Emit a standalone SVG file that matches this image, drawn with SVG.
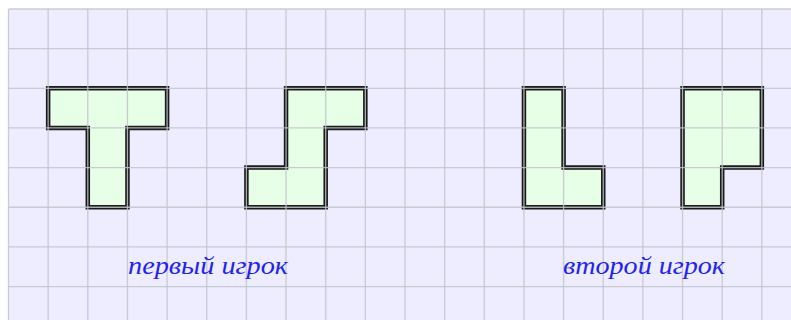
<svg xmlns="http://www.w3.org/2000/svg" width="791" height="320" viewBox="0 0 791 320">
<style>
.piece{fill:#e6ffe6;stroke:#1a1a1a;stroke-width:4.5;stroke-linejoin:miter}
.grid line{stroke:#c4c4cc;stroke-width:1.3;opacity:0.85}
.lbl{font-family:"Liberation Serif","DejaVu Serif",serif;font-style:italic;font-size:26px;fill:#2323f0}
</style>
<rect x="0" y="0" width="791" height="320" fill="#ffffff"/>
<rect x="8.5" y="9" width="782.5" height="311" fill="#ededff"/>
<g id="piece-T"><polygon class="piece" points="48.15,88.3 167.1,88.3 167.1,127.95 127.45,127.95 127.45,207.25 87.8,207.25 87.8,127.95 48.15,127.95"/></g>
<g id="piece-S"><polygon class="piece" points="286.05,88.3 365.35,88.3 365.35,127.95 325.7,127.95 325.7,207.25 246.4,207.25 246.4,167.6 286.05,167.6"/></g>
<g id="piece-L"><polygon class="piece" points="523.95,88.3 563.6,88.3 563.6,167.6 603.25,167.6 603.25,207.25 523.95,207.25"/></g>
<g id="piece-P"><polygon class="piece" points="682.55,88.3 761.85,88.3 761.85,167.6 722.2,167.6 722.2,207.25 682.55,207.25"/></g>
<g class="grid">
<line x1="8.5" y1="9" x2="8.5" y2="320"/>
<line x1="48.15" y1="9" x2="48.15" y2="320"/>
<line x1="87.8" y1="9" x2="87.8" y2="320"/>
<line x1="127.45" y1="9" x2="127.45" y2="320"/>
<line x1="167.1" y1="9" x2="167.1" y2="320"/>
<line x1="206.75" y1="9" x2="206.75" y2="320"/>
<line x1="246.4" y1="9" x2="246.4" y2="320"/>
<line x1="286.05" y1="9" x2="286.05" y2="320"/>
<line x1="325.7" y1="9" x2="325.7" y2="320"/>
<line x1="365.35" y1="9" x2="365.35" y2="320"/>
<line x1="405" y1="9" x2="405" y2="320"/>
<line x1="444.65" y1="9" x2="444.65" y2="320"/>
<line x1="484.3" y1="9" x2="484.3" y2="320"/>
<line x1="523.95" y1="9" x2="523.95" y2="320"/>
<line x1="563.6" y1="9" x2="563.6" y2="320"/>
<line x1="603.25" y1="9" x2="603.25" y2="320"/>
<line x1="642.9" y1="9" x2="642.9" y2="320"/>
<line x1="682.55" y1="9" x2="682.55" y2="320"/>
<line x1="722.2" y1="9" x2="722.2" y2="320"/>
<line x1="761.85" y1="9" x2="761.85" y2="320"/>
<line x1="8.5" y1="9" x2="791" y2="9"/>
<line x1="8.5" y1="48.65" x2="791" y2="48.65"/>
<line x1="8.5" y1="88.3" x2="791" y2="88.3"/>
<line x1="8.5" y1="127.95" x2="791" y2="127.95"/>
<line x1="8.5" y1="167.6" x2="791" y2="167.6"/>
<line x1="8.5" y1="207.25" x2="791" y2="207.25"/>
<line x1="8.5" y1="246.9" x2="791" y2="246.9"/>
<line x1="8.5" y1="286.55" x2="791" y2="286.55"/>
</g>
<g id="label-first"><text class="lbl" x="128" y="274" textLength="160" lengthAdjust="spacingAndGlyphs">первый игрок</text></g>
<g id="label-second"><text class="lbl" x="563" y="274" textLength="162" lengthAdjust="spacingAndGlyphs">второй игрок</text></g>
</svg>
